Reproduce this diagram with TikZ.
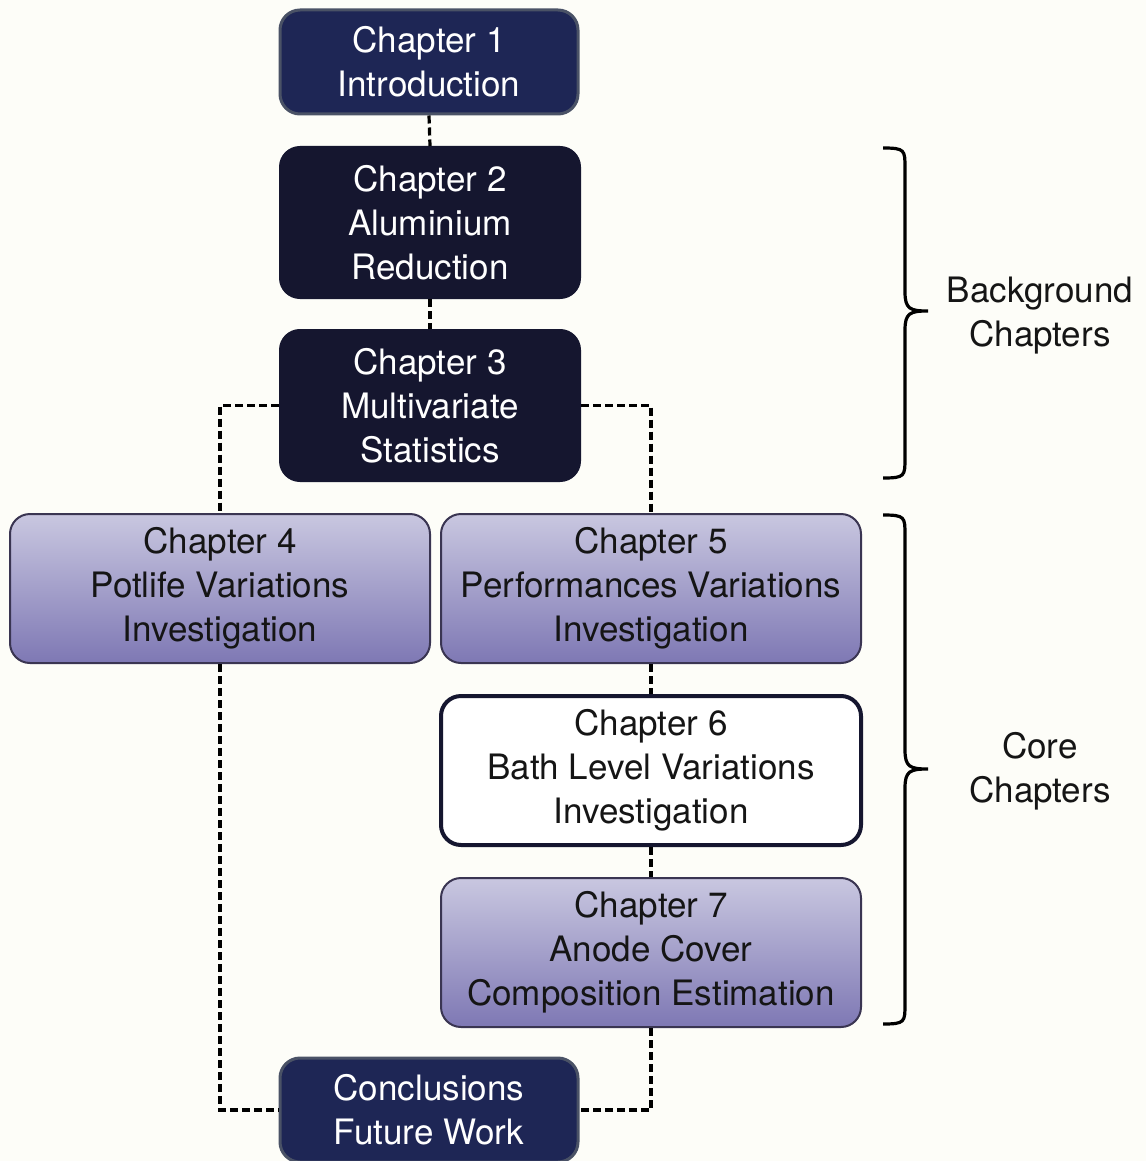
\documentclass[tikz,border=0pt]{standalone}
\usepackage{fontspec}
\setmainfont{TeX Gyre Heros}
\definecolor{bgcream}{HTML}{FDFDF8}
\definecolor{navyA}{HTML}{1E2655}
\definecolor{navyB}{HTML}{15162F}
\definecolor{navyEdge}{HTML}{4A5266}
\definecolor{lavTop}{HTML}{C9C7E0}
\definecolor{lavBot}{HTML}{7E78B4}
\definecolor{lavEdge}{HTML}{3A3552}
\definecolor{textdark}{HTML}{151515}
\begin{document}
\begin{tikzpicture}[x=1pt,y=-1pt,
  box/.style={rounded corners=20pt, align=center, inner sep=0pt,
    font=\fontsize{35}{44}\selectfont},
  darkbox/.style={box, fill=navyA, draw=navyEdge, line width=3pt, text=white,
    minimum width=298pt, minimum height=104pt},
  blackbox/.style={box, fill=navyB, draw=navyB, line width=2pt, text=white,
    minimum width=300pt, minimum height=151pt},
  lavbox/.style={box, top color=lavTop, bottom color=lavBot, draw=lavEdge,
    line width=2pt, text=textdark, minimum width=420pt, minimum height=149pt},
  whitebox/.style={box, fill=white, draw=navyB, line width=4pt, text=textdark,
    minimum width=420pt, minimum height=149pt},
  link/.style={draw=black, line width=3.2pt, dash pattern=on 8pt off 4pt},
  bracestroke/.style={draw=black, line width=3.2pt},
  sidelabel/.style={align=center, text=textdark, font=\fontsize{35}{44}\selectfont}
]
\fill[bgcream] (0,0) rectangle (1146,1161);
\useasboundingbox (0,0) rectangle (1146,1161);

\node[darkbox]  (c1) at (429,62)    {Chapter 1\\Introduction};
\node[blackbox] (c2) at (430,222.5) {Chapter 2\\Aluminium\\Reduction};
\node[blackbox] (c3) at (430,405.5) {Chapter 3\\Multivariate\\Statistics};
\node[lavbox]   (c4) at (220,588.5) {Chapter 4\\Potlife Variations\\Investigation};
\node[lavbox]   (c5) at (651,588.5) {Chapter 5\\Performances Variations\\Investigation};
\node[whitebox] (c6) at (651,770.5) {Chapter 6\\Bath Level Variations\\Investigation};
\node[lavbox]   (c7) at (651,952.5) {Chapter 7\\Anode Cover\\Composition Estimation};
\node[darkbox]  (cc) at (429,1110)  {Conclusions\\Future Work};

\draw[link] (c1.south) -- (c2.north);
\draw[link] (c2.south) -- (c3.north);
\draw[link] (c3.west) -| (c4.north);
\draw[link] (c3.east) -| (c5.north);
\draw[link] (c5.south) -- (c6.north);
\draw[link] (c6.south) -- (c7.north);
\draw[link] (c4.south) |- (cc.west);
\draw[link] (c7.south) |- (cc.east);

% braces
\draw[bracestroke] (883,148) .. controls (905,148) and (905,150) .. (905,168)
  -- (905,292) .. controls (905,309) and (910,311) .. (928,311)
  .. controls (910,311) and (905,313) .. (905,330)
  -- (905,458) .. controls (905,476) and (905,478) .. (883,478);
\draw[bracestroke] (883,515) .. controls (905,515) and (905,517) .. (905,535)
  -- (905,750) .. controls (905,767) and (910,769) .. (928,769)
  .. controls (910,769) and (905,771) .. (905,788)
  -- (905,1004) .. controls (905,1022) and (905,1024) .. (883,1024);

\node[sidelabel] (lb) at (1040,316) {Background\\Chapters};
\node[sidelabel] (lc) at (1040,771) {Core\\Chapters};
\end{tikzpicture}
\end{document}
